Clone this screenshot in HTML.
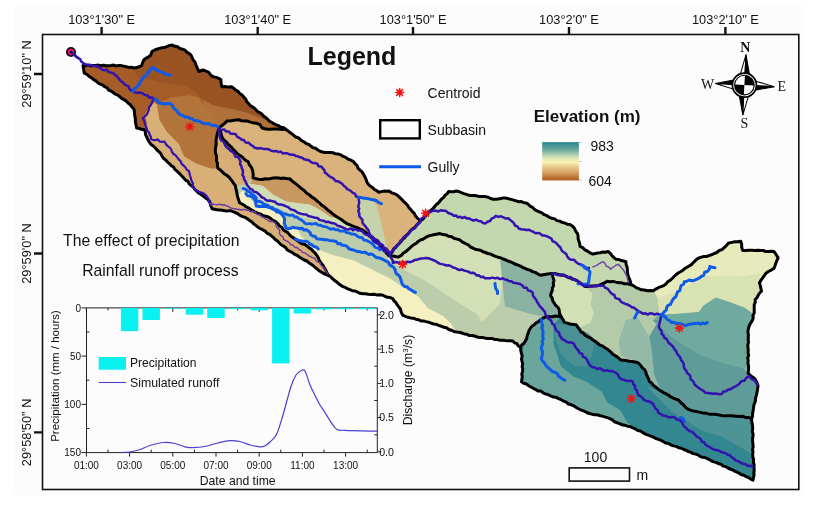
<!DOCTYPE html>
<html><head><meta charset="utf-8">
<style>
html,body{margin:0;padding:0;background:#fff;width:817px;height:509px;overflow:hidden}
svg{display:block;will-change:transform}
text{font-family:"Liberation Sans",sans-serif;fill:#111}
.serif{font-family:"Liberation Serif",serif}
.ast{font-family:"Liberation Sans",sans-serif;fill:#e8222a;font-size:17px;font-weight:bold;text-anchor:middle}
</style></head><body>
<svg width="817" height="509" viewBox="0 0 817 509">
<rect x="0" y="0" width="817" height="509" fill="#ffffff"/><rect x="13.5" y="6.5" width="791.5" height="488" fill="#fcfcfc"/>
<g id="map">
<clipPath id="cp"><path d="M83.0,65.5 L111.0,65.5 L118.7,65.5 L134.0,68.0 L141.7,65.5 L144.3,59.2 L150.7,55.3 L152.0,51.5 L162.0,47.7 L172.4,45.1 L185.0,50.2 L191.0,55.0 L196.0,65.0 L199.0,71.5 L203.0,70.0 L208.5,72.2 L211.3,75.6 L220.9,79.7 L222.0,86.8 L231.5,86.8 L242.1,95.0 L250.3,105.6 L259.8,112.7 L269.2,121.0 L278.6,125.7 L285.7,129.2 L302.2,141.0 L320.0,151.3 L338.0,153.9 L353.3,161.5 L363.5,174.3 L368.6,184.5 L378.8,192.2 L389.0,191.0 L397.5,195.3 L407.7,205.5 L415.4,215.8 L420.5,220.9 L438.4,203.0 L448.6,191.5 L458.8,191.5 L469.0,195.3 L485.5,196.6 L493.2,199.2 L503.4,197.9 L526.4,203.0 L536.6,210.7 L552.0,218.3 L572.4,226.0 L577.5,233.6 L580.0,246.4 L592.8,254.1 L608.0,251.5 L615.8,259.2 L626.0,261.7 L628.6,277.0 L631.1,284.7 L641.4,289.8 L653.4,290.7 L663.7,285.6 L670.0,280.4 L676.2,274.5 L688.7,266.2 L699.0,257.9 L711.5,254.8 L722.0,249.6 L728.2,243.3 L740.7,241.2 L742.8,250.6 L755.2,250.6 L774.0,251.6 L778.1,257.9 L774.0,268.3 L765.7,273.5 L759.4,282.9 L761.5,291.2 L755.2,299.5 L753.2,318.2 L748.2,329.5 L748.2,373.5 L755.0,379.0 L758.0,385.6 L755.5,398.3 L751.6,418.8 L752.9,436.7 L752.9,457.1 L754.2,469.9 L752.9,480.1 L732.5,469.9 L709.5,459.7 L683.9,449.5 L663.5,441.8 L645.6,434.1 L630.2,426.5 L620.0,423.9 L607.1,417.6 L586.7,412.5 L571.3,404.8 L561.1,399.7 L535.6,389.5 L521.5,381.8 L522.8,369.0 L521.5,353.7 L520.5,347.3 L512.8,340.9 L497.5,339.6 L477.1,337.0 L456.6,332.0 L436.2,324.3 L415.8,319.2 L403.0,315.4 L400.4,309.0 L392.8,298.7 L382.2,295.0 L360.0,293.3 L342.5,286.4 L334.7,280.5 L328.8,275.6 L326.8,274.7 L319.0,270.7 L309.1,262.9 L299.3,257.0 L289.5,251.1 L279.6,243.2 L269.8,234.4 L260.0,228.5 L247.7,219.0 L232.4,211.3 L212.0,208.7 L209.4,201.1 L196.6,190.9 L183.9,178.1 L166.0,160.2 L157.0,150.0 L149.4,142.2 L146.8,137.0 L144.3,129.4 L136.6,128.1 L135.4,119.2 L134.0,109.0 L126.4,101.3 L111.0,91.0 L95.8,80.9 L84.3,73.2 Z"/></clipPath>
<g clip-path="url(#cp)">
<path d="M83.0,65.5 L111.0,65.5 L118.7,65.5 L134.0,68.0 L141.7,65.5 L144.3,59.2 L150.7,55.3 L152.0,51.5 L162.0,47.7 L172.4,45.1 L185.0,50.2 L191.0,55.0 L196.0,65.0 L199.0,71.5 L203.0,70.0 L208.5,72.2 L211.3,75.6 L220.9,79.7 L222.0,86.8 L231.5,86.8 L242.1,95.0 L250.3,105.6 L259.8,112.7 L269.2,121.0 L278.6,125.7 L285.7,129.2 L279.8,129.2 L270.4,129.2 L262.1,128.0 L259.8,124.5 L250.3,122.1 L238.6,119.8 L226.8,121.0 L219.2,128.4 L216.0,140.2 L215.5,153.2 L218.0,168.3 L228.9,177.0 L235.4,185.6 L237.5,196.4 L239.7,202.9 L250.5,209.4 L263.4,215.8 L267.9,216.7 L275.7,221.6 L285.5,231.4 L295.4,239.3 L307.2,246.2 L315.0,253.0 L321.0,262.9 L326.8,272.7 L328.8,275.6 L326.8,274.7 L319.0,270.7 L309.1,262.9 L299.3,257.0 L289.5,251.1 L279.6,243.2 L269.8,234.4 L260.0,228.5 L247.7,219.0 L232.4,211.3 L212.0,208.7 L209.4,201.1 L196.6,190.9 L183.9,178.1 L166.0,160.2 L157.0,150.0 L149.4,142.2 L146.8,137.0 L144.3,129.4 L136.6,128.1 L135.4,119.2 L134.0,109.0 L126.4,101.3 L111.0,91.0 L95.8,80.9 L84.3,73.2 Z" fill="#a65c27" stroke="#a65c27" stroke-width="0.8"/>
<path d="M219.2,128.4 L226.8,121.0 L238.6,119.8 L250.3,122.1 L259.8,124.5 L262.1,128.0 L270.4,129.2 L279.8,129.2 L285.7,129.2 L302.2,141.0 L320.0,151.3 L338.0,153.9 L353.3,161.5 L363.5,174.3 L368.6,184.5 L378.8,192.2 L389.0,191.0 L397.5,195.3 L407.7,205.5 L415.4,215.8 L420.5,220.9 L418.2,223.7 L402.5,239.5 L388.7,255.2 L376.8,241.3 L363.1,230.5 L353.7,226.5 L344.2,221.8 L334.8,215.5 L325.4,207.7 L317.5,201.4 L309.7,195.1 L301.8,188.8 L294.0,182.6 L290.0,179.0 L286.1,178.6 L273.6,177.9 L259.4,179.4 L253.1,177.9 L252.6,170.5 L248.3,161.8 L239.7,155.4 L231.0,146.7 L222.4,138.0 Z" fill="#dab27c" stroke="#dab27c" stroke-width="0.8"/>
<path d="M219.2,128.4 L216.0,140.2 L215.5,153.2 L218.0,168.3 L228.9,177.0 L235.4,185.6 L237.5,196.4 L239.7,202.9 L250.5,209.4 L263.4,215.8 L267.9,216.7 L275.7,221.6 L285.5,231.4 L295.4,239.3 L307.2,246.2 L315.0,253.0 L321.0,262.9 L326.8,272.7 L328.8,275.6 L334.7,280.5 L342.5,286.4 L360.0,293.3 L382.2,295.0 L392.8,298.7 L400.4,309.0 L403.0,315.4 L415.8,319.2 L436.2,324.3 L456.6,332.0 L477.1,337.0 L497.5,339.6 L512.8,340.9 L520.5,347.3 L525.3,340.9 L530.4,328.1 L540.3,319.8 L547.1,316.4 L560.8,316.4 L559.1,309.6 L554.0,302.7 L550.6,295.8 L552.3,290.7 L554.0,280.4 L552.3,273.6 L540.3,275.3 L530.0,270.1 L511.0,262.0 L490.6,254.0 L472.8,248.0 L460.0,240.0 L446.0,234.9 L440.0,233.6 L430.0,235.5 L418.2,241.4 L408.4,249.3 L398.6,257.0 L388.7,255.2 L376.8,241.3 L363.1,230.5 L353.7,226.5 L344.2,221.8 L334.8,215.5 L325.4,207.7 L317.5,201.4 L309.7,195.1 L301.8,188.8 L294.0,182.6 L290.0,179.0 L286.1,178.6 L273.6,177.9 L259.4,179.4 L253.1,177.9 L252.6,170.5 L248.3,161.8 L239.7,155.4 L231.0,146.7 L222.4,138.0 Z" fill="#bccdab" stroke="#bccdab" stroke-width="0.8"/>
<path d="M420.5,220.9 L438.4,203.0 L448.6,191.5 L458.8,191.5 L469.0,195.3 L485.5,196.6 L493.2,199.2 L503.4,197.9 L526.4,203.0 L536.6,210.7 L552.0,218.3 L572.4,226.0 L577.5,233.6 L580.0,246.4 L592.8,254.1 L608.0,251.5 L615.8,259.2 L626.0,261.7 L628.6,277.0 L631.1,284.7 L627.7,283.8 L615.7,282.1 L607.1,281.3 L598.5,285.6 L584.8,286.4 L574.6,279.6 L564.3,275.3 L552.3,273.6 L540.3,275.3 L530.0,270.1 L511.0,262.0 L490.6,254.0 L472.8,248.0 L460.0,240.0 L446.0,234.9 L440.0,233.6 L430.0,235.5 L418.2,241.4 L408.4,249.3 L398.6,257.0 L388.7,255.2 L402.5,239.5 L418.2,223.7 Z" fill="#c4d8b0" stroke="#c4d8b0" stroke-width="0.8"/>
<path d="M552.3,273.6 L564.3,275.3 L574.6,279.6 L584.8,286.4 L598.5,285.6 L607.1,281.3 L615.7,282.1 L627.7,283.8 L631.1,284.7 L641.4,289.8 L653.4,290.7 L663.7,285.6 L670.0,280.4 L676.2,274.5 L688.7,266.2 L699.0,257.9 L711.5,254.8 L722.0,249.6 L728.2,243.3 L740.7,241.2 L742.8,250.6 L755.2,250.6 L774.0,251.6 L778.1,257.9 L774.0,268.3 L765.7,273.5 L759.4,282.9 L761.5,291.2 L755.2,299.5 L753.2,318.2 L748.2,329.5 L748.2,373.5 L755.0,379.0 L758.0,385.6 L755.5,398.3 L751.6,418.8 L742.7,416.2 L722.0,415.5 L700.5,412.4 L688.0,409.2 L683.2,404.5 L678.5,400.0 L673.0,398.0 L661.0,391.0 L649.3,381.4 L644.6,369.6 L637.5,362.5 L621.0,360.2 L609.2,350.7 L595.0,341.3 L581.0,331.9 L576.2,324.8 L564.4,322.4 L560.8,316.4 L559.1,309.6 L554.0,302.7 L550.6,295.8 L552.3,290.7 L554.0,280.4 Z" fill="#b3cba8" stroke="#b3cba8" stroke-width="0.8"/>
<path d="M560.8,316.4 L564.4,322.4 L576.2,324.8 L581.0,331.9 L595.0,341.3 L609.2,350.7 L621.0,360.2 L637.5,362.5 L644.6,369.6 L649.3,381.4 L661.0,391.0 L673.0,398.0 L678.5,400.0 L683.2,404.5 L688.0,409.2 L700.5,412.4 L722.0,415.5 L742.7,416.2 L751.6,418.8 L752.9,436.7 L752.9,457.1 L754.2,469.9 L752.9,480.1 L732.5,469.9 L709.5,459.7 L683.9,449.5 L663.5,441.8 L645.6,434.1 L630.2,426.5 L620.0,423.9 L607.1,417.6 L586.7,412.5 L571.3,404.8 L561.1,399.7 L535.6,389.5 L521.5,381.8 L522.8,369.0 L521.5,353.7 L520.5,347.3 L525.3,340.9 L530.4,328.1 L540.3,319.8 L547.1,316.4 Z" fill="#338791" stroke="#338791" stroke-width="0.8"/>
<path d="M130.0,60.0 L134.0,68.0 L141.7,65.5 L144.3,59.2 L150.7,55.3 L152.0,51.5 L162.0,47.7 L172.4,45.1 L185.0,50.2 L191.0,55.0 L196.0,65.0 L199.0,71.5 L203.0,70.0 L208.5,72.2 L211.3,75.6 L220.9,79.7 L222.0,86.8 L231.5,86.8 L242.1,95.0 L250.3,105.6 L259.8,112.7 L269.2,121.0 L278.6,125.7 L285.7,129.2 L285.7,129.2 L282.6,126.6 L263.0,118.8 L247.5,113.0 L231.8,109.0 L212.2,105.0 L202.4,99.2 L194.6,91.4 L184.8,85.5 L165.2,83.5 L149.6,79.6 L137.0,77.3 Z" fill="#9a5322"/>
<path d="M202.4,99.2 L212.2,105.0 L231.8,109.0 L247.5,113.0 L263.0,118.8 L282.6,126.6 L285.7,129.2 L270.4,129.2 L262.1,128.0 L259.8,124.5 L250.3,122.1 L238.6,119.8 L226.8,121.0 L219.2,128.4 L218.0,118.8 L212.2,111.0 L204.4,105.1 Z" fill="#b0703a"/>
<path d="M155.4,105.0 L171.0,97.2 L188.8,95.3 L198.5,97.2 L204.4,105.1 L212.2,111.0 L218.0,118.8 L219.2,128.4 L216.0,140.2 L215.5,153.2 L218.0,168.3 L211.0,168.5 L196.3,163.6 L184.0,156.3 L179.0,144.0 L166.8,131.7 L159.4,119.4 Z" fill="#b3743a"/>
<path d="M154.5,102.3 L157.0,104.7 L159.4,119.4 L166.8,131.7 L179.0,144.0 L184.0,156.3 L196.3,163.6 L211.0,168.5 L218.0,168.3 L228.9,177.0 L235.4,185.6 L237.5,196.4 L239.7,202.9 L250.5,209.4 L263.4,215.8 L267.9,216.7 L275.7,221.6 L285.5,231.4 L295.4,239.3 L307.2,246.2 L315.0,253.0 L321.0,262.9 L326.8,272.7 L328.8,275.6 L320.0,280.0 L250.0,240.0 L200.0,215.0 L140.0,160.0 L135.0,140.0 L147.2,124.4 L144.7,114.5 L150.0,106.0 Z" fill="#d9af78"/>
<path d="M357.0,199.0 L370.0,199.0 L377.0,206.0 L381.0,222.0 L385.0,240.0 L388.0,252.0 L378.0,245.0 L368.0,232.0 L360.0,218.0 Z" fill="#c5d3ab"/>
<path d="M219.2,128.4 L216.0,140.2 L215.5,153.2 L218.0,168.3 L228.9,177.0 L235.4,185.6 L244.7,184.7 L253.1,177.9 L252.6,170.5 L248.3,161.8 L239.7,155.4 L231.0,146.7 L222.4,138.0 Z" fill="#d8ae76"/>
<path d="M250.0,184.1 L253.1,177.9 L259.4,179.4 L273.6,177.9 L286.1,178.6 L294.0,182.6 L301.8,188.8 L309.7,195.1 L317.5,201.4 L325.4,207.7 L334.8,215.5 L340.0,219.0 L330.1,217.1 L323.8,212.4 L316.0,207.7 L309.7,204.6 L297.1,203.0 L286.1,201.4 L273.6,195.1 L262.6,185.7 Z" fill="#c99860"/>
<path d="M244.7,184.7 L250.0,184.1 L262.6,185.7 L273.6,195.1 L286.1,201.4 L297.1,203.0 L309.7,204.6 L316.0,207.7 L323.8,212.4 L330.1,217.1 L340.0,219.0 L344.2,221.8 L353.7,226.5 L363.1,230.5 L376.8,241.3 L388.7,255.2 L376.8,248.4 L370.0,237.5 L360.0,232.8 L344.2,226.5 L328.5,223.4 L312.8,220.3 L297.1,215.5 L281.4,209.3 L265.7,203.0 L250.0,195.0 Z" fill="#d0ddb5"/>
<path d="M243.0,190.0 L250.0,198.0 L256.3,206.1 L270.4,207.7 L281.4,214.0 L286.1,228.1 L297.1,228.1 L301.3,236.6 L315.5,248.4 L334.4,255.5 L353.2,260.2 L372.1,269.6 L391.0,279.0 L405.1,288.5 L418.2,296.4 L428.0,308.2 L443.9,316.6 L451.5,324.3 L456.6,332.0 L436.2,324.3 L415.8,319.2 L403.0,315.4 L400.4,309.0 L392.8,298.7 L382.2,295.0 L360.0,293.3 L342.5,286.4 L334.7,280.5 L328.8,275.6 L326.8,272.7 L321.0,262.9 L315.0,253.0 L307.2,246.2 L295.4,239.3 L285.5,231.4 L275.7,221.6 L267.9,216.7 L263.4,215.8 L250.5,209.4 L239.7,202.9 L237.5,196.4 Z" fill="#f5f0c1"/>
<path d="M388.7,255.2 L398.6,257.0 L408.4,249.3 L418.2,241.4 L430.0,235.5 L440.0,233.6 L446.0,234.9 L460.0,240.0 L472.8,248.0 L490.6,254.0 L500.0,258.0 L502.6,283.4 L500.0,303.9 L482.0,322.0 L477.0,314.0 L462.0,305.0 L448.0,296.0 L435.0,287.0 L422.0,279.0 L410.0,273.0 L398.0,266.0 L388.0,262.0 Z" fill="#d2dfb7"/>
<path d="M500.0,258.0 L511.0,262.0 L530.0,270.1 L540.3,275.3 L552.3,273.6 L554.0,280.4 L552.3,290.7 L550.6,295.8 L554.0,302.7 L559.1,309.6 L560.8,316.4 L547.1,316.4 L543.5,316.6 L530.7,314.0 L505.0,306.4 L502.6,283.4 Z" fill="#8ab2a2"/>
<path d="M552.3,273.6 L564.3,275.3 L574.6,279.6 L584.8,286.4 L592.7,294.0 L590.4,303.6 L594.0,313.0 L590.4,322.4 L581.0,327.0 L576.2,324.8 L564.4,322.4 L559.7,315.4 L554.0,302.7 L550.6,295.8 L552.3,290.7 L554.0,280.4 Z" fill="#d2e0b6"/>
<path d="M653.4,290.7 L663.7,285.6 L670.0,280.4 L676.2,274.5 L688.7,266.2 L699.0,257.9 L711.5,254.8 L722.0,249.6 L728.2,243.3 L740.7,241.2 L742.8,250.6 L755.2,250.6 L774.0,251.6 L778.1,257.9 L774.0,268.3 L765.7,273.5 L759.4,282.9 L761.5,291.2 L755.2,299.5 L753.2,314.0 L744.8,307.8 L728.2,301.6 L715.7,297.4 L703.2,305.7 L699.0,312.0 L674.0,314.0 L659.5,314.0 L657.5,297.4 Z" fill="#e7ebbc"/>
<path d="M657.5,297.4 L676.6,292.0 L704.7,276.6 L727.7,276.0 L743.0,276.6 L760.0,273.0 L761.5,291.2 L755.2,299.5 L753.2,314.0 L744.8,307.8 L728.2,301.6 L715.7,297.4 L703.2,305.7 L699.0,312.0 L674.0,314.0 L659.5,314.0 Z" fill="#d9e2b2"/>
<path d="M625.7,320.0 L637.5,317.7 L649.3,336.6 L651.7,350.7 L654.0,374.3 L665.0,388.0 L673.0,398.0 L661.0,391.0 L649.3,381.4 L644.6,369.6 L637.5,362.5 L621.0,355.4 L618.7,341.3 Z" fill="#94b9a7"/>
<path d="M659.5,314.0 L674.0,314.0 L699.0,312.0 L703.2,305.7 L715.7,297.4 L728.2,301.6 L744.8,307.8 L753.2,314.0 L748.2,329.5 L748.2,370.0 L744.0,368.0 L722.0,362.5 L700.0,354.3 L680.8,343.3 L658.8,326.8 L653.0,320.0 Z" fill="#6faa9e"/>
<path d="M653.0,320.0 L658.8,326.8 L680.8,343.3 L700.0,354.3 L722.0,362.5 L744.0,368.0 L748.2,373.5 L755.0,379.0 L758.0,385.6 L755.5,398.3 L751.6,418.8 L742.7,416.2 L722.2,413.7 L700.5,412.4 L688.0,409.2 L683.2,404.5 L678.5,398.3 L673.8,401.4 L661.0,391.0 L654.0,374.3 L651.7,350.7 L649.3,336.6 L658.7,320.0 Z" fill="#5f9b98"/>
<path d="M560.8,316.4 L547.1,316.4 L540.3,319.8 L530.4,328.1 L525.3,340.9 L521.5,353.7 L522.8,369.0 L521.5,381.8 L535.6,389.5 L561.1,399.7 L571.3,404.8 L586.7,412.5 L607.1,417.6 L622.5,422.7 L637.8,430.0 L627.6,422.7 L620.0,410.0 L607.0,402.2 L602.0,392.0 L586.7,381.8 L574.0,376.7 L561.0,366.5 L556.0,351.0 L553.5,343.5 L553.5,325.0 Z" fill="#6aa69b"/>
<path d="M553.5,325.0 L564.3,323.3 L574.6,323.3 L578.0,328.4 L588.3,333.5 L595.1,340.0 L592.0,355.0 L586.7,366.5 L574.0,366.0 L561.0,355.0 L556.0,340.0 Z" fill="#4a9195"/>
<path d="M645.6,385.6 L658.3,390.7 L673.8,401.4 L678.5,398.3 L683.2,404.5 L688.0,409.2 L700.5,412.4 L722.0,415.5 L742.7,416.2 L751.6,418.8 L752.9,436.7 L752.9,454.6 L740.1,446.9 L722.2,436.7 L704.3,431.6 L686.5,421.3 L671.1,411.1 Z" fill="#4e9497"/>
</g>
<path d="M219.2,128.4 L220.9,126.3 L223.0,124.7 L225.1,123.0 L226.8,121.0 L229.8,120.9 L232.7,120.6 L235.6,120.0 L238.6,119.8 L241.5,120.7 L244.4,121.0 L247.5,121.1 L250.3,122.1 L253.5,122.9 L256.7,123.3 L259.8,124.5 L262.1,128.0 L264.8,128.8 L267.6,129.2 L270.4,129.2 L273.5,129.0 L276.7,129.0 L279.8,129.2 L282.8,129.5 L285.7,129.2" fill="none" stroke="#000" stroke-width="3.0" stroke-linejoin="round" stroke-linecap="round"/>
<path d="M420.5,220.9 L418.2,223.7 L416.2,225.6 L414.5,227.9 L412.0,229.3 L410.0,231.3 L408.4,233.6 L406.3,235.4 L404.7,237.7 L402.5,239.5 L401.0,241.6 L399.2,243.6 L397.2,245.3 L395.8,247.5 L393.5,249.0 L392.5,251.6 L390.7,253.4 L388.7,255.2" fill="none" stroke="#000" stroke-width="3.0" stroke-linejoin="round" stroke-linecap="round"/>
<path d="M388.7,255.2 L386.7,253.4 L385.4,251.2 L383.3,249.5 L382.1,247.1 L380.3,245.2 L378.4,243.4 L376.8,241.3 L374.6,239.4 L372.3,237.6 L369.7,236.3 L367.7,234.1 L365.5,232.2 L363.1,230.5 L360.8,229.5 L358.5,228.2 L356.1,227.3 L353.7,226.5 L351.3,225.4 L348.8,224.4 L346.4,223.3 L344.2,221.8 L342.0,220.0 L339.6,218.5 L337.2,217.0 L334.8,215.5 L332.4,213.6 L330.1,211.6 L327.6,209.9 L325.4,207.7 L323.4,206.1 L321.2,204.8 L319.6,202.9 L317.5,201.4 L315.6,199.7 L313.7,198.1 L311.5,196.9 L309.7,195.1 L307.5,193.8 L305.6,192.1 L303.9,190.2 L301.8,188.8 L299.2,186.7 L296.8,184.5 L294.0,182.6 L292.0,180.9 L290.0,179.0" fill="none" stroke="#000" stroke-width="3.0" stroke-linejoin="round" stroke-linecap="round"/>
<path d="M290.0,179.0 L286.1,178.6 L283.6,178.0 L281.1,178.4 L278.6,178.0 L276.1,177.8 L273.6,177.9 L270.8,178.5 L268.0,178.9 L265.1,178.7 L262.3,179.5 L259.4,179.4 L256.2,178.8 L253.1,177.9 L253.2,174.2 L252.6,170.5 L251.5,167.4 L249.4,164.9 L248.3,161.8 L245.9,160.5 L243.8,158.8 L242.0,156.7 L239.7,155.4 L237.2,153.6 L235.2,151.2 L232.9,149.2 L231.0,146.7 L228.6,144.8 L226.7,142.3 L224.3,140.4 L222.4,138.0 L221.5,135.6 L221.0,133.1 L220.2,130.7 L219.2,128.4" fill="none" stroke="#000" stroke-width="3.0" stroke-linejoin="round" stroke-linecap="round"/>
<path d="M219.2,128.4 L218.0,131.2 L217.2,134.2 L216.6,137.2 L216.0,140.2 L216.2,142.8 L216.0,145.4 L215.5,148.0 L215.3,150.6 L215.5,153.2 L216.4,155.6 L216.7,158.2 L216.4,160.8 L217.5,163.2 L217.4,165.8 L218.0,168.3 L220.3,169.9 L222.3,171.9 L224.3,173.8 L226.7,175.3 L228.9,177.0 L230.6,179.1 L232.3,181.2 L233.7,183.5 L235.4,185.6 L235.8,188.3 L236.5,191.0 L237.0,193.7 L237.5,196.4 L238.6,199.7 L239.7,202.9 L242.0,204.0 L244.2,205.2 L246.1,206.9 L248.5,207.8 L250.5,209.4 L253.0,210.8 L255.5,212.2 L258.1,213.5 L260.9,214.3 L263.4,215.8 L267.9,216.7 L270.5,218.3 L272.9,220.3 L275.7,221.6 L277.8,223.5 L279.3,225.9 L281.8,227.3 L283.3,229.7 L285.5,231.4 L287.8,232.6 L289.4,234.7 L291.2,236.4 L293.4,237.8 L295.4,239.3 L297.7,240.8 L299.9,242.4 L302.2,243.9 L305.0,244.5 L307.2,246.2 L309.1,247.9 L311.4,249.3 L313.1,251.2 L315.0,253.0 L316.8,255.3 L318.3,257.8 L319.4,260.5 L321.0,262.9 L322.8,265.1 L324.2,267.6 L325.8,270.0 L326.8,272.7 L328.8,275.6" fill="none" stroke="#000" stroke-width="3.0" stroke-linejoin="round" stroke-linecap="round"/>
<path d="M388.7,255.2 L391.1,256.0 L393.7,256.0 L396.1,256.8 L398.6,257.0 L401.3,255.4 L403.4,253.0 L406.1,251.4 L408.4,249.3 L410.3,247.6 L412.1,245.9 L414.2,244.4 L416.4,243.2 L418.2,241.4 L420.4,239.9 L423.0,239.2 L425.2,237.7 L427.5,236.4 L430.0,235.5 L432.5,235.0 L435.0,234.4 L437.5,234.0 L440.0,233.6 L442.9,234.6 L446.0,234.9 L448.7,236.3 L451.7,236.7 L454.2,238.4 L457.2,239.1 L460.0,240.0 L461.9,241.7 L464.1,242.9 L466.4,244.0 L468.7,245.1 L470.4,247.0 L472.8,248.0 L475.2,249.3 L477.8,249.8 L480.6,250.2 L482.9,251.7 L485.4,252.5 L487.9,253.5 L490.6,254.0 L493.0,255.4 L495.5,256.4 L498.2,257.2 L500.8,257.9 L503.3,259.0 L505.9,260.0 L508.4,261.2 L511.0,262.0 L513.3,263.1 L515.6,264.3 L518.1,265.1 L520.5,266.1 L522.7,267.5 L525.1,268.3 L527.5,269.5 L530.0,270.1 L532.5,271.6 L535.3,272.4 L537.8,273.9 L540.3,275.3 L543.3,274.7 L546.3,274.2 L549.2,273.7 L552.3,273.6 L555.4,273.6 L558.3,274.4 L561.3,275.2 L564.3,275.3 L566.7,276.7 L569.3,277.9 L572.0,278.6 L574.6,279.6 L577.4,280.9 L579.9,282.7 L582.5,284.3 L584.8,286.4 L587.6,286.6 L590.3,285.9 L593.0,286.1 L595.8,285.7 L598.5,285.6 L601.4,284.2 L604.4,283.0 L607.1,281.3 L610.0,281.7 L612.9,281.4 L615.7,282.1 L618.7,282.7 L621.7,282.8 L624.6,283.8 L627.7,283.8 L631.1,284.7" fill="none" stroke="#000" stroke-width="3.0" stroke-linejoin="round" stroke-linecap="round"/>
<path d="M552.3,273.6 L552.9,277.1 L554.0,280.4 L553.2,282.9 L553.6,285.6 L552.3,288.1 L552.3,290.7 L551.1,293.1 L550.6,295.8 L552.1,297.9 L552.6,300.5 L554.0,302.7 L555.5,305.2 L557.7,307.1 L559.1,309.6 L559.5,313.1 L560.8,316.4" fill="none" stroke="#000" stroke-width="3.0" stroke-linejoin="round" stroke-linecap="round"/>
<path d="M560.8,316.4 L562.8,319.3 L564.4,322.4 L567.3,323.1 L570.2,324.1 L573.2,324.4 L576.2,324.8 L577.8,327.2 L579.6,329.4 L581.0,331.9 L583.5,333.2 L585.4,335.4 L587.9,336.8 L590.5,338.0 L592.6,339.8 L595.0,341.3 L597.3,343.0 L599.5,344.8 L602.2,345.8 L604.6,347.4 L607.0,348.9 L609.2,350.7 L611.1,352.4 L612.9,354.2 L615.0,355.6 L617.3,356.8 L619.1,358.5 L621.0,360.2 L623.8,360.2 L626.5,360.6 L629.3,361.3 L632.0,361.4 L634.8,361.9 L637.5,362.5 L639.5,364.1 L641.1,366.0 L642.6,368.1 L644.6,369.6 L645.8,371.9 L646.4,374.4 L647.5,376.6 L648.6,379.0 L649.3,381.4 L651.4,382.8 L653.0,384.8 L654.9,386.5 L657.0,388.0 L658.8,389.7 L661.0,391.0 L663.3,392.6 L665.9,393.6 L668.3,395.0 L670.6,396.7 L673.0,398.0 L675.7,399.1 L678.5,400.0 L680.7,402.5 L683.2,404.5 L685.3,407.1 L688.0,409.2 L690.4,410.1 L692.9,410.9 L695.5,411.3 L698.0,411.9 L700.5,412.4 L703.1,413.1 L705.9,413.2 L708.5,413.9 L711.2,414.3 L713.9,414.3 L716.6,414.6 L719.3,415.0 L722.0,415.5 L724.6,415.7 L727.2,415.7 L729.8,415.8 L732.4,415.7 L734.9,416.2 L737.5,416.2 L740.1,416.5 L742.7,416.2 L745.5,417.5 L748.8,417.5 L751.6,418.8" fill="none" stroke="#000" stroke-width="3.0" stroke-linejoin="round" stroke-linecap="round"/>
<path d="M520.5,347.3 L521.8,344.9 L524.0,343.2 L525.3,340.9 L526.7,338.5 L527.2,335.7 L528.2,333.1 L529.1,330.5 L530.4,328.1 L532.1,326.1 L534.2,324.6 L536.1,322.9 L538.5,321.7 L540.3,319.8 L542.4,318.4 L544.7,317.3 L547.1,316.4 L549.8,316.8 L552.6,316.8 L555.3,316.0 L558.1,316.2 L560.8,316.4" fill="none" stroke="#000" stroke-width="3.0" stroke-linejoin="round" stroke-linecap="round"/>
<path d="M83.0,65.5 L85.5,65.8 L88.1,65.1 L90.6,65.9 L93.2,65.6 L95.7,65.5 L98.3,65.1 L100.8,65.8 L103.4,65.3 L105.9,65.8 L108.5,65.8 L111.0,65.5 L113.6,65.1 L116.1,66.0 L118.7,65.5 L121.3,65.6 L123.8,66.1 L126.3,66.8 L128.9,67.4 L131.5,67.3 L134.0,68.0 L136.7,67.5 L139.3,66.8 L141.7,65.5 L142.7,62.2 L144.3,59.2 L147.6,57.4 L150.7,55.3 L152.0,51.5 L154.3,50.2 L156.8,49.2 L159.4,48.4 L162.0,47.7 L164.7,47.5 L167.2,46.4 L169.7,45.4 L172.4,45.1 L174.9,46.3 L177.6,46.8 L179.8,48.5 L182.5,49.2 L185.0,50.2 L186.7,52.1 L189.0,53.4 L191.0,55.0 L192.1,57.6 L193.3,60.1 L195.1,62.3 L196.0,65.0 L197.4,68.3 L199.0,71.5 L203.0,70.0 L205.8,71.1 L208.5,72.2 L211.3,75.6 L213.6,76.9 L216.2,77.4 L218.7,78.3 L220.9,79.7 L221.1,83.3 L222.0,86.8 L225.2,86.5 L228.3,87.1 L231.5,86.8 L233.8,88.3 L235.7,90.1 L238.1,91.4 L239.8,93.6 L242.1,95.0 L243.8,97.1 L245.7,99.0 L246.7,101.6 L248.6,103.5 L250.3,105.6 L252.9,107.1 L255.2,108.9 L257.2,111.2 L259.8,112.7 L261.9,114.1 L263.5,116.0 L265.6,117.5 L267.5,119.1 L269.2,121.0 L271.5,122.3 L273.7,123.7 L276.1,124.9 L278.6,125.7 L280.7,127.3 L283.5,127.6 L285.7,129.2 L287.7,130.7 L289.7,132.4 L291.8,133.7 L293.7,135.4 L295.7,137.0 L298.3,137.7 L300.2,139.4 L302.2,141.0 L304.5,142.1 L306.5,143.8 L309.1,144.5 L311.0,146.3 L313.1,147.8 L315.8,148.3 L317.8,150.0 L320.0,151.3 L322.5,152.0 L325.1,152.5 L327.7,152.6 L330.3,152.5 L332.9,152.7 L335.4,153.8 L338.0,153.9 L340.7,154.8 L343.1,156.4 L345.8,157.4 L348.1,159.2 L350.8,160.1 L353.3,161.5 L355.0,163.6 L357.1,165.5 L358.0,168.2 L360.0,170.1 L362.1,171.9 L363.5,174.3 L364.9,176.8 L366.1,179.4 L366.9,182.2 L368.6,184.5 L370.4,186.3 L372.6,187.6 L374.4,189.5 L376.7,190.7 L378.8,192.2 L381.3,191.6 L383.8,191.1 L386.4,191.3 L389.0,191.0 L391.7,192.8 L394.7,193.8 L397.5,195.3 L399.6,197.3 L401.7,199.3 L403.5,201.5 L405.8,203.4 L407.7,205.5 L409.0,207.7 L410.8,209.6 L412.4,211.6 L414.3,213.4 L415.4,215.8 L417.8,218.5 L420.5,220.9 L422.6,219.4 L424.3,217.5 L425.9,215.5 L427.8,213.9 L429.3,211.8 L431.2,210.1 L433.2,208.5 L434.7,206.5 L436.3,204.5 L438.4,203.0 L440.0,201.0 L441.6,199.0 L443.7,197.4 L445.1,195.2 L447.2,193.6 L448.6,191.5 L451.2,191.7 L453.7,191.7 L456.2,191.0 L458.8,191.5 L461.3,192.7 L463.8,193.6 L466.4,194.4 L469.0,195.3 L471.7,195.6 L474.5,195.5 L477.2,196.0 L480.0,196.6 L482.7,196.6 L485.5,196.6 L488.2,197.2 L490.6,198.5 L493.2,199.2 L495.8,199.3 L498.3,198.9 L500.9,198.5 L503.4,197.9 L506.0,198.1 L508.6,198.8 L511.1,199.4 L513.6,200.1 L516.2,200.9 L518.7,201.7 L521.4,201.5 L523.8,202.8 L526.4,203.0 L528.5,204.5 L530.3,206.3 L532.7,207.4 L534.4,209.4 L536.6,210.7 L539.3,211.8 L541.9,212.9 L544.2,214.7 L546.9,215.7 L549.3,217.3 L552.0,218.3 L554.7,218.9 L557.0,220.6 L559.7,221.1 L562.1,222.4 L564.8,223.0 L567.3,224.2 L570.0,224.6 L572.4,226.0 L574.4,228.3 L575.7,231.1 L577.5,233.6 L578.1,236.1 L578.1,238.8 L578.9,241.3 L579.7,243.8 L580.0,246.4 L582.7,247.7 L584.9,249.8 L587.6,251.2 L590.1,252.9 L592.8,254.1 L595.3,253.5 L597.8,252.9 L600.4,252.7 L602.9,252.0 L605.5,252.3 L608.0,251.5 L610.2,253.2 L611.9,255.4 L613.7,257.4 L615.8,259.2 L618.5,259.4 L620.9,260.5 L623.5,261.0 L626.0,261.7 L626.0,264.3 L627.0,266.8 L627.4,269.3 L627.4,271.9 L627.8,274.5 L628.6,277.0 L629.7,279.5 L630.5,282.0 L631.1,284.7 L633.7,285.9 L636.1,287.6 L638.7,288.7 L641.4,289.8 L644.4,290.0 L647.4,290.7 L650.4,290.6 L653.4,290.7 L655.8,289.1 L658.3,287.7 L661.0,286.7 L663.7,285.6 L665.9,284.0 L667.6,281.8 L670.0,280.4 L672.1,278.5 L674.1,276.5 L676.2,274.5 L678.2,273.0 L680.4,271.8 L682.6,270.5 L684.4,268.8 L686.6,267.5 L688.7,266.2 L691.1,264.9 L692.9,263.0 L694.8,261.1 L696.7,259.3 L699.0,257.9 L701.4,257.1 L703.9,256.5 L706.6,256.5 L709.0,255.6 L711.5,254.8 L714.1,253.5 L716.9,252.5 L719.2,250.5 L722.0,249.6 L724.2,247.7 L726.4,245.6 L728.2,243.3 L730.7,242.6 L733.1,242.1 L735.6,241.7 L738.2,241.7 L740.7,241.2 L741.7,244.3 L741.7,247.6 L742.8,250.6 L745.9,250.5 L749.0,250.2 L752.1,250.3 L755.2,250.6 L757.9,250.3 L760.6,250.6 L763.3,250.5 L765.9,251.6 L768.6,251.6 L771.3,251.2 L774.0,251.6 L775.5,253.6 L776.8,255.8 L778.1,257.9 L776.9,260.4 L775.9,263.1 L775.0,265.7 L774.0,268.3 L771.3,270.1 L768.3,271.5 L765.7,273.5 L764.1,275.8 L762.5,278.1 L760.8,280.4 L759.4,282.9 L760.3,285.6 L760.9,288.4 L761.5,291.2 L759.6,293.0 L758.2,295.2 L757.1,297.7 L755.2,299.5 L755.3,302.2 L754.2,304.8 L754.2,307.5 L754.2,310.2 L754.2,312.9 L753.0,315.5 L753.2,318.2 L752.0,321.1 L750.3,323.7 L749.0,326.5 L748.2,329.5 L747.9,332.1 L748.4,334.7 L748.3,337.3 L748.2,339.9 L748.5,342.4 L747.8,345.0 L748.0,347.6 L748.2,350.2 L748.1,352.8 L748.6,355.4 L747.7,358.0 L748.2,360.6 L747.9,363.1 L748.5,365.7 L748.6,368.3 L748.4,370.9 L748.2,373.5 L750.4,375.4 L752.8,377.1 L755.0,379.0 L756.8,382.2 L758.0,385.6 L757.7,388.2 L757.3,390.7 L756.8,393.3 L756.2,395.8 L755.5,398.3 L755.4,400.9 L754.5,403.4 L753.7,405.9 L753.5,408.5 L753.0,411.1 L752.5,413.7 L752.5,416.3 L751.6,418.8 L751.7,421.4 L752.3,423.9 L752.5,426.4 L752.7,429.0 L752.2,431.6 L753.1,434.1 L752.9,436.7 L752.5,439.2 L752.6,441.8 L753.0,444.4 L753.2,446.9 L752.5,449.4 L753.0,452.0 L752.6,454.6 L752.9,457.1 L753.6,459.6 L753.4,462.2 L754.1,464.7 L754.0,467.3 L754.2,469.9 L753.9,472.5 L754.0,475.1 L753.5,477.6 L752.9,480.1 L750.6,479.0 L748.5,477.5 L746.1,476.6 L744.0,475.3 L741.4,474.8 L739.3,473.3 L737.1,472.1 L734.7,471.1 L732.5,469.9 L730.2,469.0 L727.8,468.0 L725.7,466.6 L723.2,466.1 L721.2,464.3 L718.7,463.8 L716.5,462.6 L714.0,461.9 L711.7,461.0 L709.5,459.7 L707.3,458.6 L705.0,457.5 L702.4,457.3 L700.0,456.4 L697.9,454.9 L695.6,454.1 L693.0,453.6 L690.9,452.3 L688.5,451.6 L686.3,450.4 L683.9,449.5 L681.5,448.2 L678.7,447.7 L676.3,446.4 L673.6,445.9 L671.0,445.1 L668.7,443.5 L665.9,443.1 L663.5,441.8 L661.1,440.4 L658.5,439.4 L655.8,438.5 L653.4,437.1 L650.8,436.1 L648.2,435.2 L645.6,434.1 L643.0,432.8 L640.7,431.1 L637.8,430.5 L635.4,428.9 L632.7,427.9 L630.2,426.5 L627.5,426.2 L625.1,425.3 L622.4,425.0 L620.0,423.9 L617.3,422.9 L614.6,421.8 L612.4,419.8 L609.8,418.6 L607.1,417.6 L604.6,416.9 L602.1,416.1 L599.5,415.5 L597.0,414.8 L594.2,414.8 L591.7,414.1 L589.2,413.5 L586.7,412.5 L584.2,411.2 L581.4,410.2 L578.8,409.0 L576.3,407.5 L573.9,405.9 L571.3,404.8 L568.5,404.0 L566.3,402.1 L563.6,401.1 L561.1,399.7 L558.6,398.6 L556.1,397.3 L553.3,397.1 L550.8,396.0 L548.3,394.6 L545.6,394.0 L543.1,392.8 L540.9,391.1 L538.0,390.9 L535.6,389.5 L533.2,388.3 L530.9,387.0 L528.5,385.7 L526.4,384.0 L523.7,383.3 L521.5,381.8 L521.9,379.3 L522.3,376.7 L521.8,374.1 L522.4,371.5 L522.8,369.0 L522.1,366.5 L522.7,363.9 L522.0,361.4 L521.5,358.8 L522.2,356.2 L521.5,353.7 L520.8,350.5 L520.5,347.3 L518.4,346.0 L517.0,343.7 L514.5,342.8 L512.8,340.9 L510.3,340.7 L507.7,340.7 L505.1,340.5 L502.6,340.2 L500.0,340.2 L497.5,339.6 L494.9,339.6 L492.5,338.5 L489.9,338.6 L487.3,338.4 L484.7,338.0 L482.2,337.4 L479.6,337.4 L477.1,337.0 L474.6,336.0 L472.0,335.5 L469.3,335.6 L466.9,334.2 L464.3,333.9 L461.8,333.0 L459.3,332.2 L456.6,332.0 L453.9,331.5 L451.4,330.2 L448.8,329.5 L446.5,327.8 L443.8,327.3 L441.3,326.2 L438.7,325.4 L436.2,324.3 L433.6,324.0 L431.1,323.1 L428.6,322.2 L426.0,321.6 L423.5,320.9 L420.8,320.9 L418.4,319.7 L415.8,319.2 L413.3,318.2 L410.6,317.9 L408.0,317.3 L405.5,316.4 L403.0,315.4 L401.3,312.4 L400.4,309.0 L398.8,307.0 L397.3,304.9 L396.0,302.7 L394.1,300.9 L392.8,298.7 L390.2,297.6 L387.3,297.3 L384.7,296.2 L382.2,295.0 L379.4,294.8 L376.6,294.9 L373.9,294.2 L371.1,294.5 L368.3,294.2 L365.5,293.7 L362.8,293.8 L360.0,293.3 L357.5,292.2 L355.1,291.0 L352.4,290.7 L349.8,289.7 L347.4,288.7 L345.0,287.3 L342.5,286.4 L339.8,284.6 L337.3,282.5 L334.7,280.5 L332.7,278.9 L330.9,277.0 L328.8,275.6 L326.8,274.7 L324.0,273.8 L321.6,272.1 L319.0,270.7 L317.1,269.0 L315.1,267.5 L313.3,265.7 L311.2,264.3 L309.1,262.9 L306.9,261.0 L304.2,260.0 L301.7,258.5 L299.3,257.0 L297.0,255.3 L294.3,254.2 L292.1,252.3 L289.5,251.1 L287.2,249.9 L285.8,247.7 L283.7,246.2 L281.4,245.0 L279.6,243.2 L277.8,241.3 L275.5,239.8 L273.8,237.9 L271.7,236.2 L269.8,234.4 L267.1,233.3 L265.1,231.1 L262.6,229.7 L260.0,228.5 L257.8,227.1 L255.8,225.4 L253.7,223.9 L251.9,222.0 L249.7,220.6 L247.7,219.0 L245.3,217.4 L242.5,216.6 L239.9,215.4 L237.6,213.6 L235.0,212.5 L232.4,211.3 L229.9,210.6 L227.2,211.1 L224.7,210.8 L222.2,210.3 L219.6,210.0 L217.1,209.7 L214.5,209.2 L212.0,208.7 L211.0,206.2 L210.3,203.6 L209.4,201.1 L207.5,199.2 L205.2,197.7 L203.1,195.9 L200.8,194.3 L198.4,193.0 L196.6,190.9 L194.6,189.3 L193.2,187.0 L191.1,185.5 L189.2,183.8 L187.9,181.4 L185.5,180.2 L183.9,178.1 L182.1,176.3 L180.4,174.4 L178.6,172.6 L176.7,170.9 L174.8,169.3 L173.5,167.1 L171.3,165.7 L169.6,163.8 L167.6,162.2 L166.0,160.2 L163.8,158.5 L162.1,156.4 L160.9,153.8 L159.1,151.8 L157.0,150.0 L155.3,147.8 L153.3,146.0 L151.0,144.4 L149.4,142.2 L147.9,139.7 L146.8,137.0 L145.5,134.6 L145.3,131.9 L144.3,129.4 L141.7,129.4 L139.2,128.5 L136.6,128.1 L136.1,125.1 L135.4,122.2 L135.4,119.2 L135.0,116.7 L134.5,114.1 L134.4,111.5 L134.0,109.0 L132.1,107.1 L130.5,104.8 L128.3,103.3 L126.4,101.3 L124.3,99.7 L121.8,98.6 L119.9,96.7 L117.8,95.1 L115.2,94.2 L113.2,92.5 L111.0,91.0 L108.6,90.0 L106.9,87.7 L104.5,86.7 L102.6,84.9 L99.9,84.1 L97.8,82.7 L95.8,80.9 L93.4,79.5 L91.3,77.7 L88.9,76.2 L86.9,74.4 L84.3,73.2 Z" fill="none" stroke="#000" stroke-width="3.0" stroke-linejoin="round"/>
<path d="M71.0,52.0 L72.6,53.6 L74.5,54.9 L76.1,56.5 L77.9,57.9 L80.1,59.1 L81.3,61.5 L83.2,63.1 L85.5,64.3 L87.8,65.1 L90.3,64.8 L92.5,65.9 L95.0,66.1 L97.3,66.5 L99.6,67.5 L101.6,69.2 L103.8,70.3 L106.8,69.7 L108.5,72.0 L111.0,72.6 L113.4,73.4 L115.5,75.2 L117.6,77.1 L119.3,79.3 L120.8,81.0 L122.8,82.2 L124.2,83.9 L126.0,85.4 L128.3,86.1 L129.3,88.4 L130.7,90.2 L133.0,91.0 L135.1,92.6 L137.7,92.8 L140.3,92.6 L142.7,93.4 L144.8,95.0 L147.5,95.4 L149.4,97.7 L152.3,97.6 L154.6,98.9" fill="none" stroke="#3412b0" stroke-width="2.5" stroke-linejoin="round" stroke-linecap="round"/>
<path d="M154.6,98.9 L152.6,100.9 L151.7,103.2 L150.6,105.4 L149.0,107.5 L148.8,110.1 L147.8,112.3 L146.8,114.6 L144.7,116.4 L142.8,118.5 L144.3,120.8 L144.8,123.5 L145.6,126.0 L146.8,128.4 L147.1,130.7 L149.1,132.4 L149.6,134.6 L150.8,136.6 L150.9,139.0 L153.0,140.0 L155.3,140.2 L157.8,139.4 L159.7,141.5 L162.0,141.9 L164.4,141.5 L165.7,143.8 L167.3,145.8 L169.5,147.4 L171.2,149.4 L172.0,152.0 L173.5,154.0 L175.8,155.4 L177.2,157.4 L178.7,159.4 L180.6,161.1 L181.5,163.6 L183.4,165.4 L185.3,167.2 L186.6,169.6 L188.9,171.0 L189.5,173.1 L189.9,175.3 L190.7,177.4 L191.1,179.6 L192.0,181.6 L193.0,183.6 L192.3,186.1 L193.8,188.0 L195.4,190.0 L197.5,191.0 L199.7,192.1 L202.1,192.7 L204.2,193.8 L206.0,195.5 L207.3,197.3 L208.7,199.1 L208.6,201.6 L210.2,203.3 L211.0,205.3" fill="none" stroke="#3412b0" stroke-width="2.2" stroke-linejoin="round" stroke-linecap="round"/>
<path d="M209.4,203.6 L212.0,203.8 L214.5,204.4 L217.0,204.7 L219.7,204.1 L222.2,205.0 L224.6,204.8 L226.5,206.0 L228.7,206.5 L230.6,208.0 L232.8,208.4 L235.0,208.7 L237.2,209.2 L239.4,209.5 L241.6,210.0 L244.0,209.4 L246.1,210.2 L248.4,210.0 L250.5,211.7 L252.8,211.3 L255.3,211.9 L256.8,214.4 L259.6,214.5 L261.2,216.7 L263.6,217.5 L265.6,219.0 L267.7,219.8 L269.4,221.6 L272.1,221.2 L274.1,222.3 L275.8,224.0 L276.2,226.5 L278.0,228.4 L279.8,230.3 L279.4,233.2 L280.6,235.4 L283.0,236.9 L283.5,239.4 L285.5,240.6 L287.7,241.4 L289.4,242.9 L291.0,244.7 L293.4,245.3 L294.8,247.3 L297.3,247.7 L298.8,249.6 L301.0,250.3 L302.4,252.4 L304.7,252.9 L306.6,254.1 L308.3,255.6 L310.4,256.5 L312.4,257.6 L314.7,258.2 L315.9,260.4 L317.6,262.0 L320.0,262.4 L320.6,264.8 L322.4,266.4 L324.2,268.1 L325.5,270.0 L326.4,272.3 L328.0,274.0" fill="none" stroke="#6b3aa6" stroke-width="1.4" stroke-linejoin="round" stroke-linecap="round"/>
<path d="M133.0,91.0 L134.2,88.9 L136.3,87.6 L137.8,85.8 L139.5,84.2 L140.1,81.6 L141.7,79.8 L143.1,77.9 L144.7,76.2 L146.9,75.0 L147.6,72.5 L149.6,71.2 L150.7,69.0 L152.6,67.5 L154.8,68.7 L156.6,70.4 L159.6,71.3 L162.5,72.4 L164.9,73.9 L167.6,74.5 L170.3,75.3" fill="none" stroke="#0f5ae8" stroke-width="3.0" stroke-linejoin="round" stroke-linecap="round"/>
<path d="M154.6,98.9 L157.1,100.3 L158.5,102.8 L160.8,103.4 L163.2,103.5 L165.5,104.2 L168.0,103.2 L170.3,103.8 L172.3,105.3 L173.3,107.7 L175.0,109.4 L177.1,110.8 L178.2,113.0 L180.1,114.6 L182.6,115.4 L184.9,117.0 L187.8,116.9 L190.0,118.5 L192.5,118.8 L194.4,120.8 L197.1,120.7 L199.5,121.3 L201.7,122.5 L203.8,123.6 L206.1,123.8 L208.6,123.6 L210.6,124.8 L212.8,125.6 L215.3,125.3 L217.4,126.4 L219.2,128.4" fill="none" stroke="#0f5ae8" stroke-width="3.0" stroke-linejoin="round" stroke-linecap="round"/>
<path d="M219.2,128.4 L221.2,130.1 L224.2,129.4 L226.0,131.5 L228.8,131.4 L230.6,133.7 L233.2,133.8 L235.8,134.3 L237.2,136.9 L239.5,137.9 L241.5,139.5 L244.0,140.2 L245.7,142.4 L248.6,142.7 L250.5,144.6 L252.8,146.0 L254.8,147.8 L257.6,148.5 L260.6,148.1 L263.4,148.9 L266.1,148.9 L268.7,149.3 L271.1,150.8 L273.7,151.2 L276.4,151.0 L278.4,152.1 L280.8,151.6 L282.7,153.4 L285.0,153.3 L287.3,153.3 L289.3,154.3 L291.5,154.8 L293.8,154.7 L295.7,156.1 L298.0,156.3 L300.0,157.3 L302.2,157.7 L304.1,159.3 L306.5,159.7 L308.8,160.2 L310.7,161.9 L312.8,163.0 L315.3,163.1 L317.5,164.0 L318.5,166.2 L321.3,166.6 L322.8,168.3 L324.3,170.0 L324.9,172.6 L326.9,173.8 L328.4,175.5 L330.3,176.8 L332.4,177.8 L334.1,179.3 L335.7,181.2 L338.3,181.3 L340.2,182.6 L342.2,183.8 L343.7,185.7 L345.6,187.0 L347.0,188.9 L349.2,190.0 L351.2,191.3 L352.9,192.9 L355.1,193.9 L356.1,196.5 L358.4,197.3 L358.8,199.6 L359.1,201.9 L359.0,204.2 L358.2,206.6 L359.2,208.8 L358.3,211.2 L359.4,213.5 L359.2,215.8 L360.6,217.9 L362.4,219.6 L362.4,222.5 L363.8,224.5 L365.6,226.4 L366.8,228.5 L368.5,230.2 L368.9,232.6 L370.1,234.5 L370.4,236.9 L372.0,238.7 L373.2,241.0 L375.1,242.4 L377.4,243.6 L379.4,245.0 L380.0,247.8 L382.2,249.0 L383.9,251.3 L386.9,251.8 L388.7,254.0" fill="none" stroke="#3412b0" stroke-width="2.5" stroke-linejoin="round" stroke-linecap="round"/>
<path d="M358.4,197.3 L360.6,197.4 L362.8,198.0 L365.0,198.2 L367.2,198.6 L369.4,198.9 L371.5,199.7 L373.7,199.8 L376.5,200.7 L378.7,202.6 L381.4,203.7" fill="none" stroke="#0f5ae8" stroke-width="3.0" stroke-linejoin="round" stroke-linecap="round"/>
<path d="M388.7,254.0 L390.3,252.4 L392.2,251.2 L393.9,249.7 L394.6,247.3 L396.7,246.3 L398.2,244.6 L399.6,242.9 L400.5,240.6 L402.5,239.5 L403.5,237.3 L405.5,236.2 L407.5,235.1 L408.5,232.9 L410.4,231.6 L411.7,229.8 L413.9,228.9 L415.6,227.4 L416.5,225.2 L418.2,223.7 L420.4,222.1 L420.5,219.0 L423.1,217.7 L424.7,215.7 L425.6,213.2 L428.0,211.8 L430.8,211.9 L433.3,210.7 L435.8,210.8 L438.4,211.5 L440.9,210.2 L443.5,210.8 L446.0,210.7 L447.5,212.5 L449.7,213.5 L452.0,214.2 L453.7,215.8 L456.0,215.4 L457.9,217.3 L460.3,216.8 L462.3,218.1 L464.7,216.9 L466.7,218.5 L469.0,218.3 L471.2,219.6 L473.5,220.5 L476.3,219.7 L478.5,221.0 L481.0,221.2 L483.0,223.1 L485.5,223.4 L487.4,221.7 L490.1,221.0 L491.5,218.7 L494.0,217.7 L495.8,215.8 L498.2,216.9 L501.0,216.3 L503.4,217.4 L505.8,218.6 L508.5,218.3 L510.2,220.0 L512.1,221.5 L513.9,223.1 L514.9,225.5 L517.4,226.4 L518.7,228.5 L521.2,229.2 L523.8,229.6 L526.4,230.1 L529.1,229.8 L531.5,231.0 L533.6,232.0 L535.6,233.2 L538.2,232.9 L540.3,233.7 L542.2,235.4 L544.6,235.6 L546.8,236.2 L549.1,237.4 L551.4,238.6 L552.6,241.2 L555.1,242.1 L557.0,243.9 L558.5,245.7 L560.3,247.3 L561.2,249.5 L562.6,251.4 L564.6,252.8 L566.4,254.3 L567.3,256.6 L569.0,258.6 L571.2,259.8 L574.1,259.7 L575.7,261.8 L577.7,263.3 L580.0,264.3 L582.3,265.1 L584.3,266.6 L586.4,267.9 L589.0,268.1" fill="none" stroke="#3412b0" stroke-width="2.5" stroke-linejoin="round" stroke-linecap="round"/>
<path d="M581.4,265.0 L583.5,265.9 L584.7,268.0 L586.7,268.9 L588.6,270.1 L590.0,271.9 L589.7,274.3 L589.3,276.7 L589.0,279.0 L588.7,281.4 L588.3,283.8 L585.7,284.2 L583.1,284.2 L580.6,283.5 L578.0,283.8" fill="none" stroke="#0f5ae8" stroke-width="3.0" stroke-linejoin="round" stroke-linecap="round"/>
<path d="M592.8,266.8 L595.0,266.1 L597.1,265.2 L598.9,263.8 L601.0,262.7 L603.0,261.7 L605.1,263.5 L606.2,266.2 L609.0,267.2 L610.7,269.4 L612.3,267.6 L614.3,266.5 L616.2,265.2 L618.4,264.3 L620.2,266.2 L621.8,268.1 L623.5,270.0 L624.7,272.3 L626.0,274.5 L627.2,277.0 L627.6,279.7 L628.6,282.2" fill="none" stroke="#6b3aa6" stroke-width="1.4" stroke-linejoin="round" stroke-linecap="round"/>
<path d="M219.2,128.4 L218.7,130.9 L219.4,133.2 L219.5,135.6 L220.2,138.0 L221.1,140.3 L223.4,141.4 L224.4,143.6 L225.4,145.7 L226.9,147.5 L228.9,148.9 L230.6,150.8 L232.9,152.1 L234.4,154.2 L235.5,156.7 L238.4,157.4 L239.7,159.7 L240.5,161.8 L240.0,164.2 L241.4,166.1 L241.8,168.3 L242.8,170.4 L243.0,172.6 L242.4,174.9 L243.9,176.9 L244.0,179.1 L245.3,181.0 L246.2,183.1 L247.1,185.2 L248.8,186.9 L250.0,188.8 L252.4,189.6 L253.8,191.7 L256.4,192.2 L258.3,193.7 L260.1,195.2 L261.6,197.3 L264.0,198.1 L265.7,199.8 L267.8,200.8 L270.4,200.6 L272.6,201.2 L274.9,201.7 L276.8,203.6 L279.0,204.5 L281.4,204.6 L283.9,205.3 L286.1,206.4 L288.5,207.2 L290.3,209.3 L292.8,209.9 L295.1,210.7 L297.1,212.4 L299.3,213.3 L301.5,213.9 L303.9,214.3 L306.3,214.5 L308.2,216.0 L310.5,216.5 L312.8,217.1 L315.1,217.7 L317.5,217.9 L319.3,219.9 L321.6,220.4 L323.9,220.8 L326.0,222.0 L328.5,221.8 L330.7,222.8 L333.1,223.3 L335.5,223.9 L337.4,225.6 L339.7,226.3 L342.0,227.1 L344.2,228.1 L346.3,229.3 L348.6,229.4 L351.1,228.4 L353.1,230.2 L355.6,228.9 L357.7,230.4 L360.0,230.5 L362.2,231.3 L363.8,233.1 L365.6,234.6 L368.0,235.1 L369.8,236.6 L372.4,236.6 L373.9,238.7 L376.0,239.6 L378.1,240.7 L379.3,242.6 L381.0,244.0 L382.9,245.2 L383.7,247.7 L386.1,248.4 L387.5,250.1 L388.8,252.0 L390.3,253.9 L390.1,256.5 L391.5,258.5 L392.8,260.5 L392.8,263.0 L395.3,262.1 L397.9,262.5 L400.4,263.0 L403.0,262.1 L405.5,263.0 L407.6,261.6 L410.1,262.2 L412.3,261.3 L414.5,260.1 L416.8,259.8 L419.0,258.9 L421.3,258.6 L423.7,258.3 L426.0,257.9 L428.4,258.3 L430.7,259.1 L433.0,260.0 L435.2,260.9 L437.3,262.2 L439.4,263.6 L441.8,264.1 L444.2,264.6 L446.4,265.5 L448.9,265.3 L451.0,266.2 L453.0,267.6 L455.4,267.9 L457.4,269.3 L459.6,270.0 L462.2,269.6 L464.3,270.6 L466.5,271.1 L468.6,271.7 L470.5,273.0 L472.9,272.7 L474.9,273.7 L476.6,275.4 L479.0,275.3 L480.8,277.0 L483.2,276.7 L485.0,278.2 L487.3,278.3 L489.9,278.2 L492.4,277.6 L495.0,278.4 L497.5,277.8 L500.1,279.1 L502.6,278.3 L504.7,279.4 L507.0,279.8 L509.0,281.2 L511.4,281.3 L513.3,282.7 L515.7,283.0 L518.0,283.4 L520.4,284.2 L522.4,285.6 L524.0,287.7 L526.8,287.8 L528.1,290.5 L530.7,291.0 L532.7,292.7 L532.9,295.5 L534.4,297.6 L536.0,299.5 L537.0,301.8 L538.4,303.9 L539.7,306.1 L541.5,307.9 L543.1,309.9 L544.9,311.8 L545.4,314.5 L547.1,316.4" fill="none" stroke="#3412b0" stroke-width="2.5" stroke-linejoin="round" stroke-linecap="round"/>
<path d="M243.2,188.5 L245.7,189.1 L247.6,191.1 L250.0,192.0 L251.4,193.7 L253.2,195.1 L255.1,196.4 L256.3,198.3 L255.8,200.9 L255.7,203.5 L256.3,206.1 L258.6,206.4 L261.0,206.6 L263.4,206.4 L265.8,206.3 L268.1,207.2 L270.4,207.7 L272.5,209.1 L275.2,209.5 L276.7,211.9 L279.4,212.3 L281.4,214.0 L282.9,215.9 L284.3,217.8 L284.6,220.3 L284.2,223.1 L285.2,225.6 L286.1,228.1 L288.3,228.8 L290.5,228.3 L292.7,227.3 L294.9,227.8 L297.1,228.1 L299.5,228.5 L301.9,228.2 L304.0,230.1 L306.5,229.7 L308.2,231.1 L310.1,232.4 L310.8,234.8 L312.8,236.0 L315.2,236.4 L316.7,238.8 L319.1,239.1 L321.6,239.3 L324.1,239.8 L326.7,239.8 L329.2,240.4 L331.7,240.7 L334.0,241.0 L336.2,241.5 L337.7,243.7 L340.2,243.4 L341.9,245.1 L344.2,245.4 L346.8,246.1 L348.6,248.5 L351.0,249.5 L353.7,250.0 L355.8,251.0 L358.0,251.6 L360.2,251.8 L362.4,252.6 L364.8,252.1 L366.8,253.3 L368.9,254.5 L371.3,253.9 L373.4,255.0 L375.3,256.8 L377.5,257.8 L380.1,258.1 L382.3,259.1 L384.4,260.3 L386.7,261.3 L388.8,262.6 L389.5,264.9 L391.8,266.1 L393.7,267.5 L395.0,269.4 L395.5,271.8 L396.5,273.9 L398.6,275.2 L400.0,277.0 L400.9,279.6 L401.6,282.2 L402.6,284.7 L404.5,286.4 L407.1,286.8 L408.9,288.7 L411.1,289.9 L413.2,291.3 L415.4,292.4" fill="none" stroke="#0f5ae8" stroke-width="3.0" stroke-linejoin="round" stroke-linecap="round"/>
<path d="M245.8,193.6 L247.6,195.8 L250.6,196.2 L253.0,197.5 L254.7,199.8 L256.5,201.6 L259.3,201.2 L261.6,202.1 L263.4,203.9 L265.7,204.6 L268.1,205.5 L269.9,207.5 L272.6,207.5 L274.3,209.8 L277.1,209.9 L279.1,211.4 L281.4,212.4 L283.4,213.8 L285.8,214.0 L287.9,215.1 L290.2,215.4 L292.8,214.9 L294.6,217.0 L297.0,217.0 L298.9,218.7 L301.2,219.9 L303.3,221.4 L305.0,223.4 L307.2,224.0 L309.4,223.5 L311.6,224.2 L313.8,223.9 L316.0,223.4 L317.8,225.0 L320.1,225.1 L322.1,226.1 L324.3,226.7 L326.6,226.9 L328.5,228.1 L330.7,229.3 L333.3,228.6 L335.5,229.8 L338.0,229.7 L340.0,231.1 L342.3,231.2 L344.8,230.9 L346.6,232.7 L349.0,232.8 L351.1,234.0 L353.6,234.2 L355.9,234.9 L357.8,236.6 L360.0,237.5 L362.4,237.7 L363.7,240.1 L366.0,240.3 L368.0,241.3 L370.0,242.2 L372.1,243.6 L373.8,245.5 L375.5,247.5 L378.2,248.2 L380.0,250.0" fill="none" stroke="#0f5ae8" stroke-width="2.8" stroke-linejoin="round" stroke-linecap="round"/>
<path d="M295.3,238.7 L297.7,240.1 L300.2,240.8 L302.8,241.3 L305.5,241.3 L308.0,241.9 L309.7,244.0 L312.0,245.0 L314.0,246.5 L316.5,247.1 L318.3,249.0" fill="none" stroke="#0f5ae8" stroke-width="3.0" stroke-linejoin="round" stroke-linecap="round"/>
<path d="M495.0,283.4 L495.3,286.0 L495.7,288.6 L497.4,290.9 L497.5,293.6" fill="none" stroke="#0f5ae8" stroke-width="3.0" stroke-linejoin="round" stroke-linecap="round"/>
<path d="M552.3,273.6 L554.7,273.7 L557.0,275.0 L559.4,275.2 L562.0,274.5 L564.3,275.3 L566.1,276.8 L568.3,277.2 L570.8,277.1 L572.2,279.5 L574.6,279.6 L576.9,280.6 L578.9,282.0 L580.8,283.6 L582.7,285.2 L584.8,286.4 L587.0,285.6 L589.4,286.5 L591.7,286.6 L593.9,285.9 L596.2,286.3 L598.5,285.6 L601.1,285.8 L603.7,285.6 L605.0,287.7 L607.5,288.6 L609.0,290.5 L610.5,292.4 L612.2,294.1 L614.4,295.0 L615.1,297.6 L617.2,298.6 L619.5,299.3 L620.7,301.4 L622.5,302.7 L624.9,303.7 L627.3,304.5 L629.6,305.6 L631.7,307.2 L634.3,307.8 L636.2,309.6 L638.4,311.1 L640.8,312.4 L643.1,313.8 L645.4,313.2 L647.7,314.6 L650.0,313.2 L652.3,313.5 L654.6,314.7 L656.9,313.7 L659.2,314.2 L661.5,314.4 L660.9,316.9 L660.5,319.4 L659.9,321.8 L659.3,324.3 L658.8,326.8 L659.9,329.0 L661.7,330.8 L661.6,333.7 L663.5,335.4 L664.3,337.8 L666.5,338.9 L667.7,341.0 L668.8,343.1 L670.7,344.5 L672.5,346.0 L673.8,347.9 L674.9,349.9 L676.5,351.7 L677.1,354.0 L678.7,355.7 L680.3,357.4 L680.8,359.8 L682.5,361.7 L683.7,363.9 L683.8,366.5 L684.6,368.9 L686.3,370.8 L687.1,373.0 L689.1,374.5 L690.4,376.3 L690.3,379.0 L692.4,380.5 L693.8,382.2 L694.5,384.5 L696.3,386.0 L698.0,387.4 L700.0,388.7 L701.9,390.0 L703.9,391.1 L705.5,392.8 L707.8,393.0 L710.1,393.2 L712.4,393.8 L714.7,393.6 L717.0,393.7 L719.3,394.2 L721.8,393.9 L723.3,391.4 L725.9,391.4 L727.8,389.8 L730.3,389.3 L732.3,388.1 L734.4,386.8 L736.5,385.8 L738.6,384.5 L740.1,382.7 L741.7,381.1 L744.4,380.8 L745.7,378.7 L747.3,377.1 L749.6,376.3 L750.8,378.3 L752.8,379.7 L755.1,380.6 L756.1,382.9 L757.8,384.5" fill="none" stroke="#3412b0" stroke-width="2.5" stroke-linejoin="round" stroke-linecap="round"/>
<path d="M547.1,316.4 L548.1,318.4 L550.2,319.6 L551.5,321.4 L552.2,323.6 L554.3,324.8 L555.0,327.0 L555.7,329.3 L556.9,331.2 L559.2,332.6 L559.4,335.2 L560.8,337.0 L562.0,339.0 L564.3,340.1 L566.5,341.6 L568.8,342.6 L571.6,342.5 L573.9,343.6 L575.0,346.3 L576.6,348.6 L578.6,350.7 L579.5,353.1 L582.4,353.8 L582.7,356.7 L585.2,357.7 L586.9,359.4 L587.9,361.8 L589.1,363.9 L590.5,365.9 L592.7,367.2 L595.1,367.6 L597.3,369.0 L600.0,368.2 L602.1,369.6 L604.3,370.9 L606.9,370.2 L609.2,371.1 L611.8,370.9 L614.0,372.0 L616.3,373.2 L618.1,374.9 L619.1,377.4 L621.0,379.0 L623.3,379.6 L625.6,380.5 L628.0,381.1 L630.5,380.8 L632.8,381.4 L633.2,384.0 L635.2,385.9 L635.0,388.7 L637.0,390.7 L637.5,393.2 L638.6,395.4 L640.9,396.4 L642.5,398.1 L644.0,399.8 L646.3,401.0 L649.1,401.4 L651.4,402.6 L653.4,404.5 L654.5,406.5 L655.4,408.6 L657.6,410.0 L658.1,412.4 L660.5,413.8 L662.8,415.5 L665.2,415.7 L667.4,416.8 L669.7,417.6 L672.2,417.1 L674.9,417.6 L676.9,419.5 L679.6,420.0 L681.6,421.8 L682.8,424.2 L684.1,426.5 L686.3,428.1 L687.8,429.8 L689.7,431.1 L692.0,431.8 L693.7,433.3 L695.3,434.9 L696.7,436.7 L699.0,437.6 L700.8,439.1 L701.7,441.7 L704.2,442.3 L705.4,444.6 L707.4,445.8 L709.5,446.9 L711.5,448.3 L713.7,449.5 L716.0,450.1 L718.5,450.5 L720.6,451.7 L722.9,452.5 L725.4,452.9 L727.3,454.6 L729.9,455.2 L731.5,457.2 L733.7,458.4 L735.4,460.4 L737.9,461.1 L740.1,462.2 L742.0,463.6 L744.4,463.9 L746.4,464.9 L748.4,466.1 L751.1,465.7 L752.9,467.3" fill="none" stroke="#3412b0" stroke-width="2.5" stroke-linejoin="round" stroke-linecap="round"/>
<path d="M661.3,315.0 L663.0,313.3 L664.5,311.6 L666.3,310.0 L666.7,307.3 L668.0,305.4 L670.5,304.4 L671.5,302.2 L672.5,300.1 L673.9,298.2 L675.8,296.7 L676.6,294.5 L677.4,292.1 L679.8,290.6 L680.4,288.1 L681.1,285.6 L683.7,284.2 L684.3,281.7 L686.9,281.3 L689.2,280.0 L692.0,280.8 L694.6,280.2 L697.0,279.2 L699.3,278.0 L701.3,276.3 L703.7,275.3 L704.7,272.3 L707.3,271.5 L709.3,269.3 L709.8,266.4 L712.3,267.3 L715.0,267.7" fill="none" stroke="#0f5ae8" stroke-width="3.0" stroke-linejoin="round" stroke-linecap="round"/>
<path d="M661.3,315.0 L663.8,316.0 L665.8,317.5 L667.3,319.7 L669.8,320.6 L671.5,322.6 L673.8,322.3 L675.9,323.3 L678.1,323.6 L680.3,323.6 L682.5,324.3 L684.5,325.4 L686.8,325.2 L689.0,324.3 L691.3,324.1 L693.5,323.5 L695.9,323.6 L698.1,323.0 L700.6,324.3 L702.7,322.8 L705.1,323.8 L707.3,322.6" fill="none" stroke="#0f5ae8" stroke-width="3.0" stroke-linejoin="round" stroke-linecap="round"/>
<path d="M634.5,318.0 L635.7,316.0 L636.6,313.9 L638.0,312.0" fill="none" stroke="#0f5ae8" stroke-width="3.0" stroke-linejoin="round" stroke-linecap="round"/>
<path d="M541.2,319.3 L541.4,321.5 L542.0,323.6 L542.7,325.8 L541.8,328.1 L542.8,330.2 L543.0,332.4 L542.9,334.6 L542.7,336.8 L543.2,339.0 L542.1,341.4 L542.8,343.9 L541.6,346.3 L541.3,348.7 L542.4,351.3 L542.5,353.8 L542.1,356.2 L541.2,358.6 L542.4,360.9 L544.3,362.6 L545.5,364.9 L547.1,366.9 L549.2,368.5 L551.0,370.3 L552.9,371.8 L555.4,372.5 L557.4,373.8 L558.6,376.4 L560.7,377.6 L562.6,379.2 L564.8,380.2" fill="none" stroke="#0f5ae8" stroke-width="3.0" stroke-linejoin="round" stroke-linecap="round"/>
<path d="M680.7,417.5 L683.3,418.8 L684.6,421.4" fill="none" stroke="#0f5ae8" stroke-width="3.0" stroke-linejoin="round" stroke-linecap="round"/>
<circle cx="71" cy="52" r="4.1" fill="#e81c5c" stroke="#1a0a20" stroke-width="1.9"/><path d="M71,52 L77.9,57.9" stroke="#3412b0" stroke-width="2.4"/><circle cx="71" cy="52" r="1.5" fill="#2a0a60"/>
<use href="#star" x="189.8" y="126.8"/>
<use href="#star" x="425.6" y="213.2"/>
<use href="#star" x="402.6" y="264.3"/>
<use href="#star" x="679.4" y="328.1"/>
<use href="#star" x="631.3" y="398.8"/>
</g>
<!-- FRAME -->
<g stroke="#111" fill="none">
<rect x="42.5" y="34.5" width="756.3" height="455" stroke-width="1.6"/>
<path d="M101.6,27 V34 M257.7,27 V34 M413,27 V34 M569,27 V34 M725.4,27 V34 M34,74 H42 M34,253.5 H42 M34,432.4 H42" stroke-width="2.4"/>
</g>
<g font-size="12.8">
<text x="101.6" y="24" text-anchor="middle">103°1'30" E</text>
<text x="257.7" y="24" text-anchor="middle">103°1'40" E</text>
<text x="413" y="24" text-anchor="middle">103°1'50" E</text>
<text x="569" y="24" text-anchor="middle">103°2'0" E</text>
<text x="725.4" y="24" text-anchor="middle">103°2'10" E</text>
<text transform="translate(31,74) rotate(-90)" text-anchor="middle">29°59'10" N</text>
<text transform="translate(31,253.5) rotate(-90)" text-anchor="middle">29°59'0" N</text>
<text transform="translate(31,432.4) rotate(-90)" text-anchor="middle">29°58'50" N</text>
</g>
<!-- LEGEND -->
<text x="307.5" y="65.4" font-size="25" font-weight="bold">Legend</text>
<use href="#star" x="399.7" y="92.5"/>
<text x="427.6" y="98" font-size="14">Centroid</text>
<text x="427.6" y="134.8" font-size="14">Subbasin</text>
<text x="427.6" y="172" font-size="14">Gully</text>
<rect x="380.2" y="120.2" width="39.6" height="18.2" fill="none" stroke="#000" stroke-width="2.4"/>
<path d="M379.2,166.8 H421" stroke="#0f5ae8" stroke-width="3"/>
<text x="533.7" y="122.1" font-size="17" font-weight="bold">Elevation (m)</text>
<defs>
<g id="star"><path d="M-4,0 H4 M0,-4 V4 M-2.9,-2.9 L2.9,2.9 M-2.9,2.9 L2.9,-2.9" stroke="#ee1c1c" stroke-width="1.6" stroke-linecap="round"/><circle r="2.3" fill="#f21414"/></g>
<linearGradient id="elev" x1="0" y1="0" x2="0" y2="1">
<stop offset="0" stop-color="#25868e"/>
<stop offset="0.2" stop-color="#6aa89d"/>
<stop offset="0.4" stop-color="#d3e3b5"/>
<stop offset="0.52" stop-color="#f9f3b5"/>
<stop offset="0.65" stop-color="#e9c98a"/>
<stop offset="0.82" stop-color="#cf9a5c"/>
<stop offset="1" stop-color="#b0561c"/>
</linearGradient>
</defs>
<rect x="542.2" y="142.1" width="36.7" height="38.3" fill="url(#elev)"/>
<path d="M579,142.5 h3 M579,161.5 h3 M579,180 h3" stroke="#c8c8c8" stroke-width="1"/>
<text x="590.5" y="150.6" font-size="14">983</text>
<text x="588.5" y="186.3" font-size="14">604</text>
<!-- COMPASS -->
<g transform="translate(744.4,85.1) rotate(3)" stroke="#000" stroke-width="1" stroke-linejoin="miter">
<path d="M0,-30.5 L-5,-9 L0,-9 Z" fill="#fff"/><path d="M0,-30.5 L5,-9 L0,-9 Z" fill="#000"/>
<path d="M30,0 L9,-5 L9,0 Z" fill="#fff"/><path d="M30,0 L9,5 L9,0 Z" fill="#000"/>
<path d="M0,30 L-5,9 L0,9 Z" fill="#000"/><path d="M0,30 L5,9 L0,9 Z" fill="#fff"/>
<path d="M-29,0 L-9,-5 L-9,0 Z" fill="#000"/><path d="M-29,0 L-9,5 L-9,0 Z" fill="#fff"/>
<circle r="12" fill="#fff" stroke-width="1.7"/>
<path d="M0,0 L0,-9.8 A9.8,9.8 0 0 1 9.8,0 Z M0,0 L0,9.8 A9.8,9.8 0 0 1 -9.8,0 Z" fill="#000" stroke="none"/>
<circle r="9.8" fill="none" stroke-width="1.1"/>
</g>
<g class="serif" font-size="14">
<text x="745.3" y="52" text-anchor="middle" font-weight="bold" class="serif">N</text>
<text x="707.7" y="89" text-anchor="middle" class="serif">W</text>
<text x="781.8" y="91" text-anchor="middle" class="serif">E</text>
<text x="744.3" y="128.3" text-anchor="middle" class="serif">S</text>
</g>
<!-- SCALE -->
<text x="595.5" y="461.5" font-size="14" text-anchor="middle">100</text>
<rect x="569.2" y="467.9" width="60.3" height="13.2" fill="none" stroke="#111" stroke-width="1.6"/>
<text x="636.4" y="479.8" font-size="14">m</text>
<!-- TEXTS -->
<text x="239.6" y="246" font-size="15.75" text-anchor="end">The effect of precipitation</text>
<text x="238.6" y="275.8" font-size="15.75" text-anchor="end">Rainfall runoff process</text>
<path d="M86.5,307.9 H377.3 M86.5,452.6 H377.3 M86.5,307.9 V452.6 M377.3,307.9 V452.6 M86.5,307.9 h-5 M86.5,356.1 h-5 M86.5,404.4 h-5 M86.5,452.6 h-5 M86.5,332.0 h3 M86.5,380.2 h3 M86.5,428.5 h3 M377.3,451.9 h4 M377.3,417.6 h4 M377.3,383.4 h4 M377.3,349.1 h4 M377.3,314.8 h4 M377.3,434.8 h-3 M377.3,400.5 h-3 M377.3,366.2 h-3 M377.3,331.9 h-3 M86.4,452.6 v4 M86.4,307.9 v4 M108.0,452.6 v-3 M108.0,307.9 v2.5 M129.6,452.6 v4 M129.6,307.9 v4 M151.2,452.6 v-3 M151.2,307.9 v2.5 M172.8,452.6 v4 M172.8,307.9 v4 M194.4,452.6 v-3 M194.4,307.9 v2.5 M216.0,452.6 v4 M216.0,307.9 v4 M237.6,452.6 v-3 M237.6,307.9 v2.5 M259.2,452.6 v4 M259.2,307.9 v4 M280.8,452.6 v-3 M280.8,307.9 v2.5 M302.4,452.6 v4 M302.4,307.9 v4 M324.0,452.6 v-3 M324.0,307.9 v2.5 M345.6,452.6 v4 M345.6,307.9 v4 M367.2,452.6 v-3 M367.2,307.9 v2.5" stroke="#222" stroke-width="1" fill="none"/>
<rect x="120.9" y="307.9" width="17.4" height="23.2" fill="#08f0f0"/>
<rect x="142.5" y="307.9" width="17.4" height="12.1" fill="#08f0f0"/>
<rect x="164.1" y="307.9" width="17.4" height="0.8" fill="#08f0f0"/>
<rect x="185.7" y="307.9" width="17.4" height="6.8" fill="#08f0f0"/>
<rect x="207.3" y="307.9" width="17.4" height="10.1" fill="#08f0f0"/>
<rect x="228.9" y="307.9" width="17.4" height="1.2" fill="#08f0f0"/>
<rect x="250.5" y="307.9" width="17.4" height="2.4" fill="#08f0f0"/>
<rect x="272.1" y="307.9" width="17.4" height="55.5" fill="#08f0f0"/>
<rect x="293.7" y="307.9" width="17.4" height="5.6" fill="#08f0f0"/>
<rect x="315.3" y="307.9" width="17.4" height="1.5" fill="#08f0f0"/>
<rect x="336.9" y="307.9" width="17.4" height="1.3" fill="#08f0f0"/>
<rect x="358.5" y="307.9" width="17.4" height="1.3" fill="#08f0f0"/>
<text x="81" y="311.5" font-size="10" text-anchor="end">0</text>
<text x="81" y="359.7" font-size="10" text-anchor="end">50</text>
<text x="81" y="408.0" font-size="10" text-anchor="end">100</text>
<text x="81" y="456.2" font-size="10" text-anchor="end">150</text>
<text x="379.2" y="455.7" font-size="10.6">0.0</text>
<text x="379.2" y="421.4" font-size="10.6">0.5</text>
<text x="379.2" y="387.2" font-size="10.6">1.0</text>
<text x="379.2" y="352.9" font-size="10.6">1.5</text>
<text x="379.2" y="318.6" font-size="10.6">2.0</text>
<text x="86.4" y="468.5" font-size="10" text-anchor="middle">01:00</text>
<text x="129.6" y="468.5" font-size="10" text-anchor="middle">03:00</text>
<text x="172.8" y="468.5" font-size="10" text-anchor="middle">05:00</text>
<text x="216.0" y="468.5" font-size="10" text-anchor="middle">07:00</text>
<text x="259.2" y="468.5" font-size="10" text-anchor="middle">09:00</text>
<text x="302.4" y="468.5" font-size="10" text-anchor="middle">11:00</text>
<text x="345.6" y="468.5" font-size="10" text-anchor="middle">13:00</text>
<text x="237.7" y="485" font-size="12.2" text-anchor="middle">Date and time</text>
<text transform="translate(59,376) rotate(-90)" font-size="11.5" text-anchor="middle">Precipitation (mm / hours)</text>
<text transform="translate(412,380) rotate(-90)" font-size="12.2" text-anchor="middle">Discharge (m<tspan font-size="8" dy="-4">3</tspan><tspan dy="4">/s)</tspan></text>
<rect x="98.7" y="357" width="27.3" height="12.7" fill="#08f0f0"/>
<text x="130" y="367.4" font-size="12.1">Precipitation</text>
<path d="M98.7,382.5 H126" stroke="#4a3fd0" stroke-width="1.1"/>
<text x="130" y="387" font-size="12.3">Simulated runoff</text>
<path d="M122.50,452.50 C123.68,452.42 126.68,452.50 129.60,452.00 C132.52,451.50 136.60,450.58 140.00,449.50 C143.40,448.42 146.03,446.67 150.00,445.50 C153.97,444.33 159.63,442.83 163.80,442.50 C167.97,442.17 171.47,442.78 175.00,443.50 C178.53,444.22 181.95,446.10 185.00,446.80 C188.05,447.50 189.97,447.75 193.30,447.70 C196.63,447.65 200.88,447.28 205.00,446.50 C209.12,445.72 213.87,443.98 218.00,443.00 C222.13,442.02 226.13,440.85 229.80,440.60 C233.47,440.35 236.63,440.77 240.00,441.50 C243.37,442.23 246.77,444.12 250.00,445.00 C253.23,445.88 256.93,446.63 259.40,446.80 C261.87,446.97 263.03,446.80 264.80,446.00 C266.57,445.20 268.03,443.95 270.00,442.00 C271.97,440.05 274.43,438.80 276.60,434.30 C278.77,429.80 280.63,422.88 283.00,415.00 C285.37,407.12 288.63,393.67 290.80,387.00 C292.97,380.33 294.30,377.72 296.00,375.00 C297.70,372.28 299.50,371.37 301.00,370.70 C302.50,370.03 303.53,368.70 305.00,371.00 C306.47,373.30 308.23,380.63 309.80,384.50 C311.37,388.37 312.70,390.78 314.40,394.20 C316.10,397.62 318.43,402.25 320.00,405.00 C321.57,407.75 321.20,406.80 323.80,410.70 C326.40,414.60 332.07,425.13 335.60,428.40 C339.13,431.67 338.05,429.83 345.00,430.30 C351.95,430.77 371.92,431.05 377.30,431.20" stroke="#4a3fd0" stroke-width="1.2" fill="none"/>
</svg>
</body></html>
